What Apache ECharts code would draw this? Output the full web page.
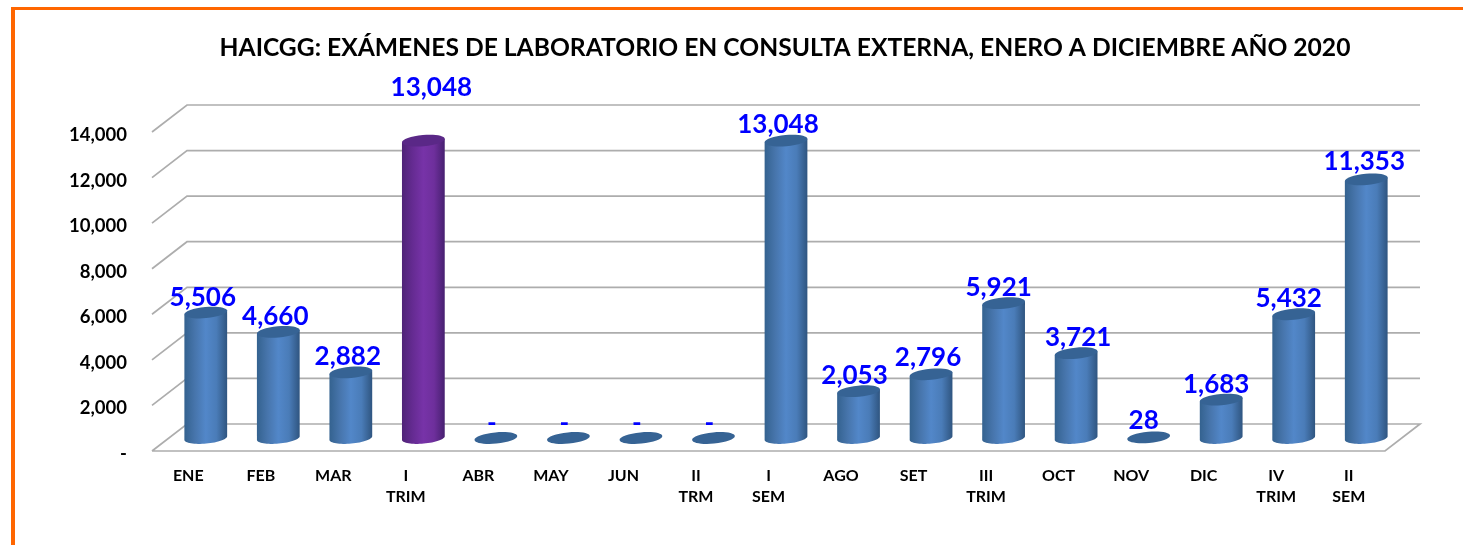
<!DOCTYPE html>
<html>
<head>
<meta charset="utf-8">
<style>html,body{margin:0;padding:0;background:#fff}#c{width:1463px;height:545px}</style>
<script src="https://cdn.jsdelivr.net/npm/echarts@6/dist/echarts.min.js"></script>
</head>
<body>
<div id="c"></div>
<script>
const categories = ['ENE','FEB','MAR','I\nTRIM','ABR','MAY','JUN','II\nTRM','I\nSEM','AGO','SET','III\nTRIM','OCT','NOV','DIC','IV\nTRIM','II\nSEM'];
const values = [5506,4660,2882,13048,0,0,0,0,13048,2053,2796,5921,3721,28,1683,5432,11353];
const isHighlighted = [0,0,0,1,0,0,0,0,0,0,0,0,0,0,0,0,0];
const yTicks = [0,2000,4000,6000,8000,10000,12000,14000];
const labelNudgeX = [-3,-3,-3,8,-4,-4,-4,-4,-8,-4,-3,-5,2,-5,-5,-5,-2];
const labelNudgeY = [-14,-15,-15,-53,-14,-14,-14,-14,-16,-15,-16,-15,-15,-16,-15,-15,-17];

const DX = 35, DY = -27, TILT = -0.09, RY = 5.6;
const FONT = 'Lato, "Open Sans", sans-serif';
const fmt = v => v === 0 ? '-' : v.toLocaleString('en-US');
const grad = stops => new echarts.graphic.LinearGradient(0,0,1,0,
  stops.map((c,i)=>({offset:i/(stops.length-1),color:c})));
const BLUE = ['#34628f','#4775ac','#5287c9','#4a7cb8','#2f5580'];
const PURPLE = ['#4f2377','#652b92','#7733a8','#6e2f9c','#472070'];

function ellipsePoint(cx, cy, a, t) {
  const x = a*Math.cos(t), y = RY*Math.sin(t);
  return [cx + x*Math.cos(TILT) - y*Math.sin(TILT), cy + x*Math.sin(TILT) + y*Math.cos(TILT)];
}

function renderWall(params, api) {
  const v = api.value(0), cs = params.coordSys;
  const y = api.coord([0, v])[1];
  const x0 = cs.x, x1 = cs.x + cs.width;
  const pts = [[x0, y],[x0+DX, y+DY],[x1+DX, y+DY]];
  if (v === 0) { pts.push([x1, y]); pts.push([x0, y]); }
  return {type:'polyline', shape:{points:pts}, silent:true,
    style:{stroke:'#adadad', lineWidth:1.7, fill:null}};
}

function renderBar(params, api) {
  const i = api.value(0), v = api.value(1);
  const base = api.coord([i, 0]), top = api.coord([i, v]);
  const a = api.size([1,0])[0] * 0.296;
  const cx = base[0] + DX/2, by = base[1] + DY/2 + 0.5, ty = top[1] + DY/2 + 0.5;
  const hi = isHighlighted[i];
  const children = [];
  if (v > 100) {
    const pts = [];
    pts.push(ellipsePoint(cx, ty, a, Math.PI));
    pts.push(ellipsePoint(cx, ty, a, 0));
    for (let k = 0; k <= 32; k++) pts.push(ellipsePoint(cx, by, a, k/32*Math.PI));
    children.push({type:'polygon', shape:{points:pts}, style:{fill:grad(hi?PURPLE:BLUE)}});
  }
  children.push({type:'ellipse', shape:{cx:0,cy:0,rx:a,ry:RY}, x:cx, y:ty, rotation:-TILT,
    style:{fill:hi?'#5a2887':'#366394'}});
  return {type:'group', children};
}

function renderLabel(params, api) {
  const i = api.value(0), v = api.value(1);
  const top = api.coord([i, v]);
  return {type:'text', x: top[0] + DX/2 + labelNudgeX[i], y: top[1] + DY/2 + labelNudgeY[i],
    style:{text:fmt(v), fill:'#0000ff', font:'bold 26px '+FONT, textAlign:'center', textVerticalAlign:'middle'}};
}

const chart = echarts.init(document.getElementById('c'), null, {renderer:'canvas'});
chart.setOption({
  animation:false,
  backgroundColor:'#fff',
  title:{text:'HAICGG: EXÁMENES DE LABORATORIO EN CONSULTA EXTERNA, ENERO A DICIEMBRE AÑO 2020',
    left:780, top:43, textAlign:'center', textVerticalAlign:'middle',
    textStyle:{fontFamily:FONT,fontWeight:'bold',fontSize:24.65,color:'#000'}},
  grid:{left:152,width:1233,top:132,height:319,containLabel:false},
  xAxis:{type:'category',data:categories,
    axisLine:{show:false},axisTick:{show:false},splitLine:{show:false},
    axisLabel:{interval:0,margin:14,color:'#000',fontFamily:FONT,fontWeight:'bold',fontSize:16,lineHeight:21,verticalAlign:'top'}},
  yAxis:{type:'value',min:0,max:14000,interval:2000,
    axisLine:{show:false},axisTick:{show:false},splitLine:{show:false},
    axisLabel:{margin:25,color:'#000',fontFamily:FONT,fontWeight:'bold',fontSize:18.5,verticalAlign:'top',lineHeight:6,
      formatter:fmt}},
  graphic:[
    {type:'rect',shape:{x:11,y:7,width:4,height:538},style:{fill:'#ff6600'},silent:true},
    {type:'rect',shape:{x:11,y:7,width:1452,height:3},style:{fill:'#ff6600'},silent:true}
  ],
  series:[
    {type:'custom',name:'wall',clip:false,z:1,coordinateSystem:'cartesian2d',
      encode:{y:0},renderItem:renderWall,data:yTicks.map(v=>[v])},
    {type:'custom',name:'bars',clip:false,z:2,encode:{x:0,y:1},renderItem:renderBar,
      data:values.map((v,i)=>[i,v])},
    {type:'custom',name:'labels',clip:false,z:3,encode:{x:0,y:1},renderItem:renderLabel,
      data:values.map((v,i)=>[i,v])}
  ]
});
</script>
</body>
</html>
